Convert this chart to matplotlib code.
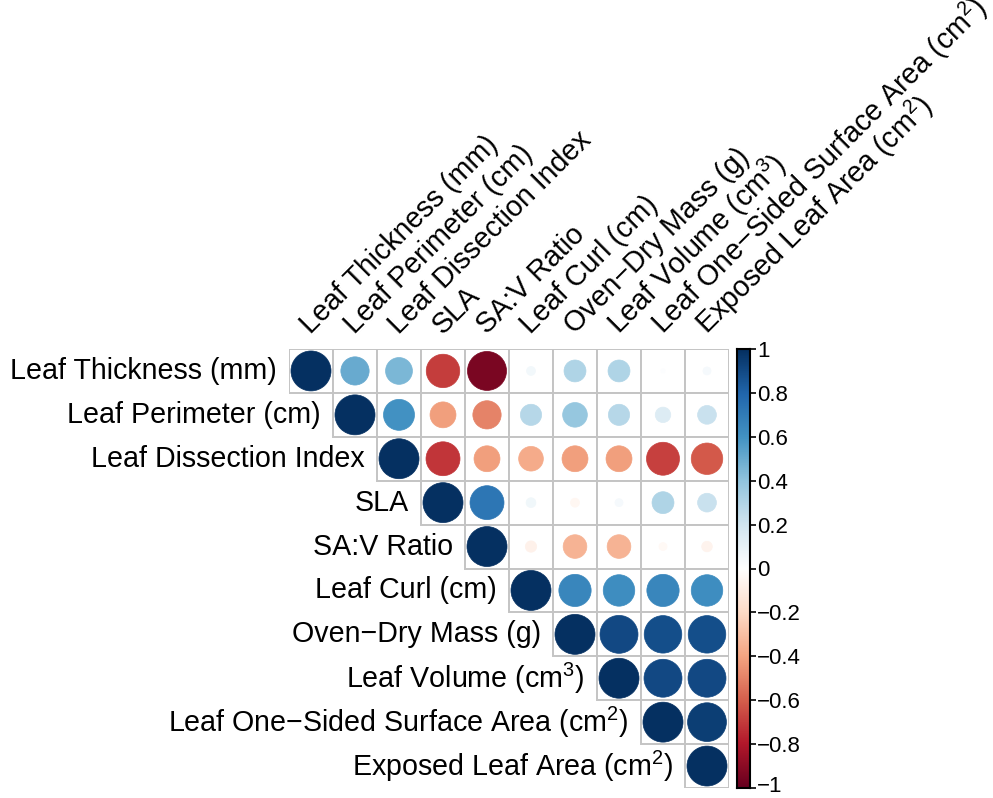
import numpy as np
import matplotlib
matplotlib.use("Agg")
import matplotlib.pyplot as plt
import matplotlib.transforms as mtransforms
from matplotlib.patches import Circle, Rectangle
from matplotlib.colors import LinearSegmentedColormap, Normalize

plt.rcParams['font.family'] = ['Liberation Sans', 'DejaVu Sans']
plt.rcParams['mathtext.fontset'] = 'custom'
plt.rcParams['mathtext.rm'] = 'Liberation Sans'
plt.rcParams['mathtext.it'] = 'Liberation Sans:italic'

# variable names (same order for rows and columns)
labels = ["Leaf Thickness (mm)", "Leaf Perimeter (cm)", "Leaf Dissection Index",
          "SLA", "SA:V Ratio", "Leaf Curl (cm)", "Oven\u2212Dry Mass (g)",
          "Leaf Volume (cm$^{3}$)", "Leaf One\u2212Sided Surface Area (cm$^{2}$)",
          "Exposed Leaf Area (cm$^{2}$)"]

# upper triangle of the correlation matrix, each row starts at the diagonal
row_thickness = [1.00, 0.50, 0.45, -0.70, -0.95, 0.05, 0.30, 0.30, 0.01, 0.04]
row_perimeter = [1.00, 0.60, -0.42, -0.50, 0.28, 0.38, 0.28, 0.15, 0.22]
row_dissection = [1.00, -0.72, -0.42, -0.38, -0.42, -0.42, -0.68, -0.62]
row_sla = [1.00, 0.72, 0.06, -0.05, 0.04, 0.30, 0.22]
row_sav = [1.00, -0.08, -0.35, -0.35, -0.04, -0.07]
row_curl = [1.00, 0.65, 0.62, 0.65, 0.62]
row_mass = [1.00, 0.90, 0.88, 0.88]
row_volume = [1.00, 0.90, 0.90]
row_surface = [1.00, 0.94]
row_exposed = [1.00]

upper_rows = [row_thickness, row_perimeter, row_dissection, row_sla, row_sav,
              row_curl, row_mass, row_volume, row_surface, row_exposed]

cbar_ticks = [-1, -0.8, -0.6, -0.4, -0.2, 0, 0.2, 0.4, 0.6, 0.8, 1]

# corrplot style RdBu palette
rdbu = LinearSegmentedColormap.from_list(
    "rdbu_corr", ["#67001F", "#B2182B", "#D6604D", "#F4A582", "#FDDBC7", "#FFFFFF",
                  "#D1E5F0", "#92C5DE", "#4393C3", "#2166AC", "#053061"], N=200)
norm = Normalize(-1, 1)

n = len(labels)
fig = plt.figure(figsize=(9.93, 7.98), dpi=100)
ax = fig.add_axes([289 / 993, 10 / 798, 440 / 993, 439 / 798])
ax.set_xlim(0, n)
ax.set_ylim(n, 0)
ax.axis('off')

for i, row in enumerate(upper_rows):
    for k, r in enumerate(row):
        j = i + k
        ax.add_patch(Rectangle((j, i), 1, 1, facecolor='white',
                               edgecolor='#C4C4C4', linewidth=1.4, zorder=1))
        c = rdbu(norm(r))
        ax.add_patch(Circle((j + 0.5, i + 0.5), 0.455 * np.sqrt(abs(r)),
                            facecolor=c, edgecolor=c, linewidth=0.5, zorder=2))

# row labels sit left of the diagonal cell
for i, lab in enumerate(labels):
    ax.text(i - 0.28, i + 0.5, lab, ha='right', va='center', fontsize=20.6,
            clip_on=False)

# column labels rotated 45 degrees above the grid
for j, lab in enumerate(labels):
    ax.text(j + 0.5, -0.32, lab, ha='left', va='baseline', rotation=45,
            rotation_mode='anchor', fontsize=20.6, clip_on=False)

# colour legend
cax = fig.add_axes([737 / 993, 10 / 798, 13 / 993, 439 / 798])
grad = np.linspace(-1, 1, 200).reshape(-1, 1)
cax.imshow(grad, cmap=rdbu, norm=norm, aspect='auto', origin='lower',
           extent=[0, 1, -1, 1])
cax.set_xticks([])
cax.yaxis.tick_right()
cax.set_yticks(cbar_ticks)
cax.set_yticklabels([("%g" % t).replace("-", "\u2212") for t in cbar_ticks])
cax.tick_params(axis='y', length=4, width=1.2, pad=1, labelsize=16)
for s in cax.spines.values():
    s.set_linewidth(1.5)

# nudge the bottom label up a little so it stays inside the figure
bottom_lab = cax.get_yticklabels()[0]
bottom_lab.set_transform(bottom_lab.get_transform() +
                         mtransforms.ScaledTranslation(0, 3 / 72, fig.dpi_scale_trans))

fig.savefig("out.png", dpi=100)
